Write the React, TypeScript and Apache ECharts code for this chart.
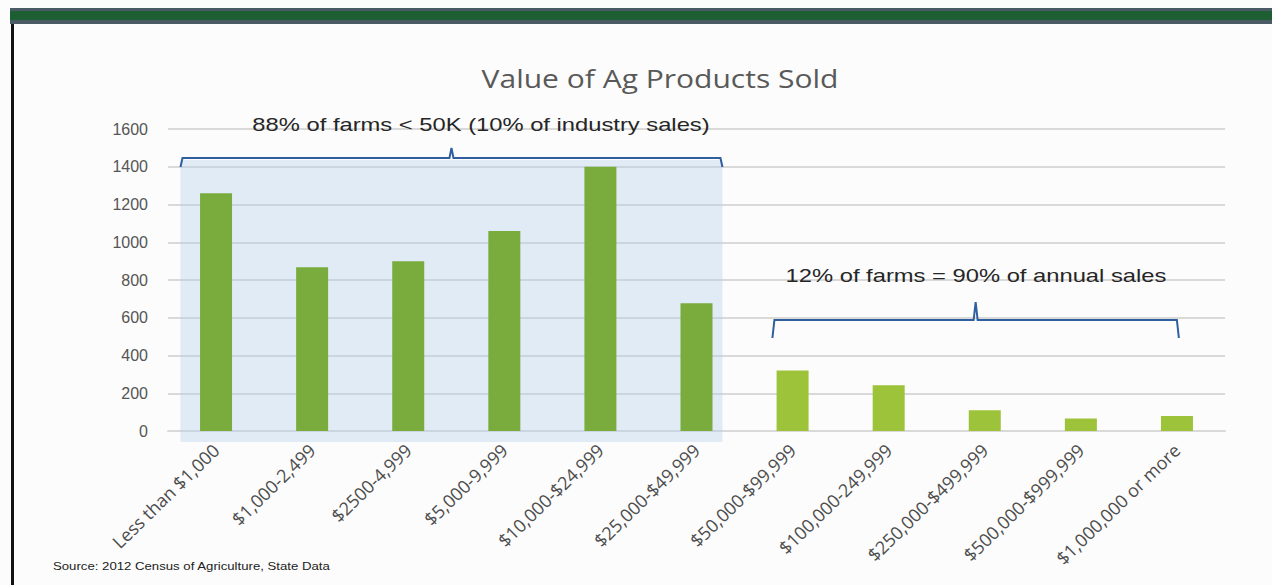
import React, { useEffect, useRef } from "react";
import * as echarts from "echarts";

const categories = [
  "Less than $1,000",
  "$1,000-2,499",
  "$2500-4,999",
  "$5,000-9,999",
  "$10,000-$24,999",
  "$25,000-$49,999",
  "$50,000-$99,999",
  "$100,000-249,999",
  "$250,000-$499,999",
  "$500,000-$999,999",
  "$1,000,000 or more",
];
const farms = [1260, 867, 900, 1060, 1400, 677, 320, 243, 110, 66, 80];
const yTicks = { min: 0, max: 1600, interval: 200 };
const smallGroupCount = 6;
const titleText = "Value of Ag Products Sold";
const leftNote = "88% of farms < 50K (10% of industry sales)";
const rightNote = "12% of farms = 90% of annual sales";
const sourceText = "Source: 2012 Census of Agriculture, State Data";

export default function App() {
  const ref = useRef<HTMLDivElement>(null);
  useEffect(() => {
    if (!ref.current) return;
    const chart = echarts.init(ref.current, null, { renderer: "svg" });
    const blue = "#2f5f9f";
    chart.setOption({
      animation: false,
      backgroundColor: "#fcfcfc",
      grid: { left: 168, right: 47, top: 129, bottom: 154 },
      xAxis: {
        type: "category",
        data: categories,
        axisLine: { show: true, lineStyle: { color: "#d9d9d9", width: 2 } },
        axisTick: { show: false },
        axisLabel: {
          rotate: 44,
          interval: 0,
          margin: 16,
          fontFamily: "Open Sans",
          fontSize: 18,
          color: "#4d4d4d",
        },
      },
      yAxis: {
        type: "value",
        min: yTicks.min,
        max: yTicks.max,
        interval: yTicks.interval,
        axisLine: { show: false },
        axisTick: { show: false },
        axisLabel: {
          margin: 20,
          fontFamily: "Liberation Sans",
          fontSize: 16,
          color: "#555",
          formatter: (v: number) => String(v),
        },
        splitLine: { lineStyle: { color: "#d9d9d9", width: 2 } },
      },
      series: [
        {
          type: "bar",
          barWidth: 32,
          z: 3,
          data: farms.map((v, i) => ({
            value: v,
            itemStyle: { color: i < smallGroupCount ? "#7aab3d" : "#9cc33a" },
          })),
        },
      ],
    });

    const px = (i: number) => chart.convertToPixel({ xAxisIndex: 0 }, i) as number;
    const band = px(1) - px(0);
    const l0 = px(0) - band * 0.37;
    const l1 = px(smallGroupCount - 1) + band * 0.27;
    const r0 = px(smallGroupCount) - band * 0.21;
    const r1 = px(categories.length - 1) + band * 0.02;
    const lm = (l0 + l1) / 2;
    const rm = (r0 + r1) / 2;

    chart.setOption({
      graphic: [
        { type: "rect", z: 0, shape: { x: 10, y: 8, width: 1262, height: 16 }, style: { fill: "#4b5b66" } },
        { type: "rect", z: 0, shape: { x: 10, y: 11, width: 1262, height: 9 }, style: { fill: "#1d5e33" } },
        { type: "rect", z: 0, shape: { x: 11, y: 24, width: 3, height: 561 }, style: { fill: "#111" } },
        {
          type: "rect",
          z: 1,
          shape: { x: l0, y: 160, width: l1 - l0, height: 282 },
          style: { fill: "rgba(175,204,236,0.36)" },
        },
        {
          type: "polyline",
          z: 5,
          shape: {
            points: [
              [l0, 167], [l0 + 2, 158], [lm - 2, 158], [lm, 148], [lm + 2, 158], [l1 - 2, 158], [l1, 167],
            ],
          },
          style: { stroke: blue, lineWidth: 2, fill: "none" },
        },
        {
          type: "polyline",
          z: 5,
          shape: {
            points: [
              [r0, 338], [r0 + 2, 320], [rm - 2, 320], [rm, 302], [rm + 2, 320], [r1 - 2, 320], [r1, 338],
            ],
          },
          style: { stroke: blue, lineWidth: 2, fill: "none" },
        },
        {
          type: "text",
          z: 5,
          x: 660,
          y: 78,
          scaleX: 1.2,
          style: {
            text: titleText, fontFamily: "Open Sans", fontSize: 25, fill: "#595959",
            align: "center", verticalAlign: "middle",
          },
        },
        {
          type: "text",
          z: 5,
          x: 481,
          y: 125,
          scaleX: 1.25,
          style: {
            text: leftNote, fontFamily: "Liberation Sans", fontSize: 19, fill: "#262626",
            align: "center", verticalAlign: "middle",
          },
        },
        {
          type: "text",
          z: 5,
          x: 976,
          y: 276,
          scaleX: 1.25,
          style: {
            text: rightNote, fontFamily: "Liberation Sans", fontSize: 19, fill: "#262626",
            align: "center", verticalAlign: "middle",
          },
        },
        {
          type: "text",
          z: 5,
          x: 53,
          y: 566,
          scaleX: 1.2,
          style: {
            text: sourceText, fontFamily: "Liberation Sans", fontSize: 11, fill: "#222",
            align: "left", verticalAlign: "middle",
          },
        },
      ],
    });
    return () => chart.dispose();
  }, []);
  return (
    <div
      ref={ref}
      style={{ position: "fixed", left: 0, top: 0, width: 1272, height: 585 }}
    />
  );
}
